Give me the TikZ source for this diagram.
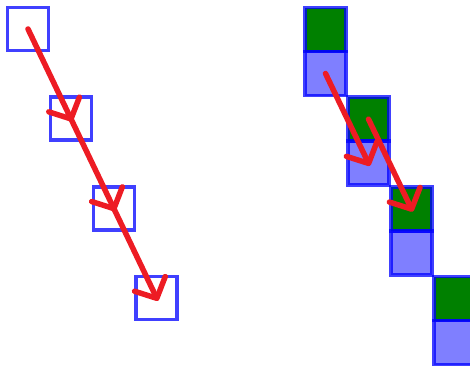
\documentclass[tikz,border=0pt]{standalone}
\usetikzlibrary{arrows.meta}
\definecolor{arrred}{RGB}{237,28,36}
\definecolor{cellgreen}{RGB}{0,128,0}
\tikzset{
  cellbase/.style={draw=blue, draw opacity=0.75, line width=3.5pt, inner sep=0pt,
    minimum width=41pt, minimum height=43pt},
  lsq/.style={cellbase, minimum height=43pt},
  gcell/.style={cellbase, fill=cellgreen, minimum height=44pt},
  bcell/.style={cellbase, fill=blue, fill opacity=0.5, minimum height=44pt},
  redarrow/.style={draw=arrred, line width=5.5pt, line cap=round,
    -{Straight Barb[length=16pt,width=34pt,round]}, shorten >=-3pt}
}
\begin{document}
\begin{tikzpicture}[x=1pt,y=-1pt]
\useasboundingbox (0,0) rectangle (470,368);
\clip (0,0) rectangle (470,368);
% left column
\foreach \i in {0,1,2,3}{
  \node[lsq] (l\i) at ({28+42.9*\i},{29+89.7*\i}) {};
}
% right column
\foreach \i in {0,1,2,3}{
  \node[gcell] (g\i) at ({325.5+43*\i},{29.5+89.7*\i}) {};
  \node[bcell] (b\i) at ({325.5+43*\i},{73.5+89.7*\i}) {};
}
% arrows
\draw[redarrow] (l0.center) -- (l1.center);
\draw[redarrow] (l1.center) -- (l2.center);
\draw[redarrow] (l2.center) -- (l3.center);
\draw[redarrow] (b0.center) -- (b1.center);
\draw[redarrow] (g1.center) -- (g2.center);
\end{tikzpicture}
\end{document}
